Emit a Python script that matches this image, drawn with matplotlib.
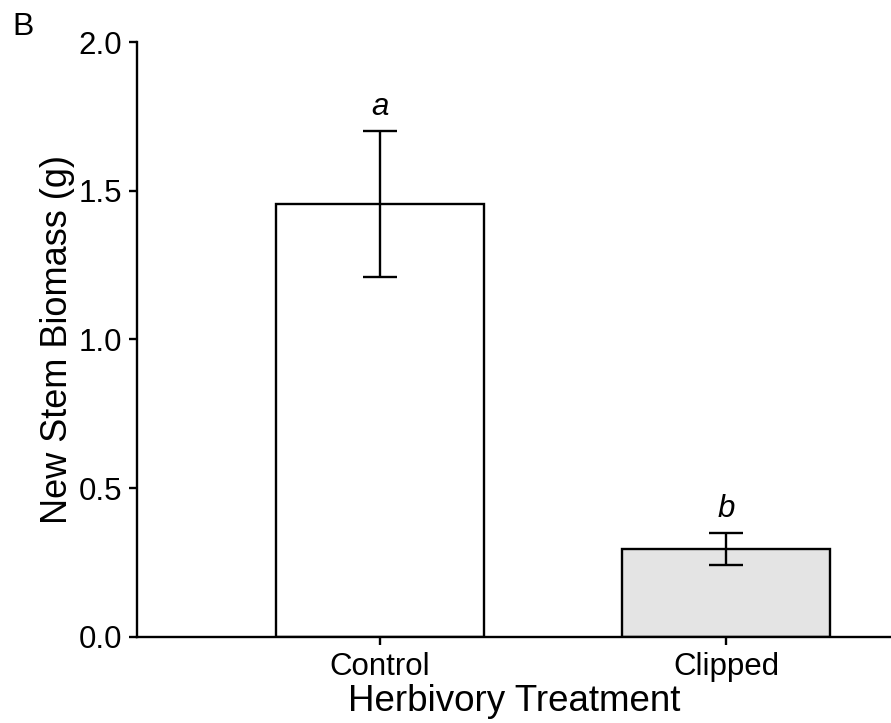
import matplotlib.pyplot as plt

# Values
treatments = ['Control', 'Clipped']
biomass = [1.455, 0.296]
se_err = [0.245, 0.054]
letters = ['a', 'b']
bar_colors = ['white', '#e4e4e4']

plt.rcParams['font.family'] = ['Liberation Sans', 'DejaVu Sans']

fig = plt.figure(figsize=(8.91, 7.23), dpi=100)
ax = fig.add_axes([0.1538, 0.119, 0.8462, 0.8229])

x = list(range(len(treatments)))
ax.bar(x, biomass, width=0.6, color=bar_colors, edgecolor='black', linewidth=1.7, zorder=2)
ax.errorbar(x, biomass, yerr=se_err, fmt='none', ecolor='black', elinewidth=1.7,
            capsize=12, capthick=1.7, zorder=3)

for xi, v, e, lab in zip(x, biomass, se_err, letters):
    ax.text(xi, v + e + 0.03, lab, ha='center', va='bottom', fontsize=22.5, style='italic')

ax.set_xlim(-0.70, 1.476)
ax.set_ylim(0, 2.0)
ax.set_yticks([0.0, 0.5, 1.0, 1.5, 2.0])
ax.set_yticklabels(['0.0', '0.5', '1.0', '1.5', '2.0'])
ax.set_xticks(x)
ax.set_xticklabels(treatments)

for side in ['top', 'right']:
    ax.spines[side].set_visible(False)
for side in ['left', 'bottom']:
    ax.spines[side].set_linewidth(1.7)

ax.tick_params(axis='both', direction='out', width=1.7, labelsize=22.5)
ax.tick_params(axis='y', length=6, pad=5)
ax.tick_params(axis='x', length=6, pad=5)

ax.set_xlabel('Herbivory Treatment', fontsize=26.5, labelpad=1)
ax.set_ylabel('New Stem Biomass (g)', fontsize=26, labelpad=2)

fig.text(12 / 891, 1 - 35 / 723, 'B', fontsize=23, ha='left', va='baseline')

fig.savefig('out.png', dpi=100)
